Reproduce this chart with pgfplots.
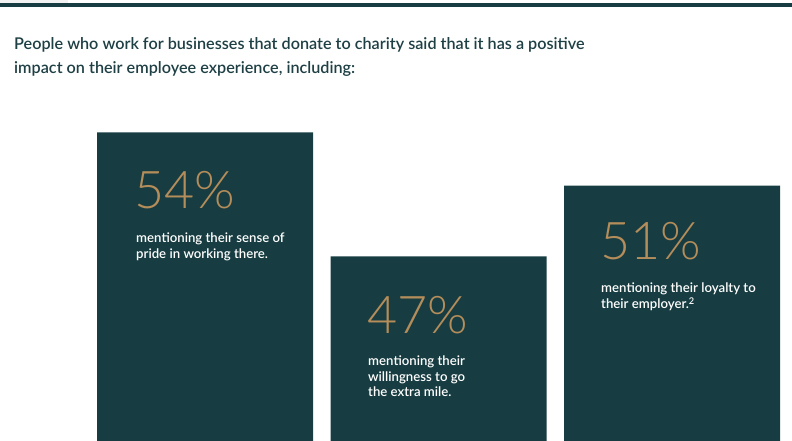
\documentclass[border=0pt]{standalone}
\usepackage{pgfplots}
\pgfplotsset{compat=1.18}
\usepackage{fontspec}
\setmainfont{Lato}
\newfontfamily\lightfont{Lato Light}
\newfontfamily\semifont{Lato Semibold}
\definecolor{deepteal}{HTML}{173D42}
\definecolor{gold}{HTML}{B48D5A}
\definecolor{titlecol}{HTML}{1E3F44}
\begin{document}
\begin{tikzpicture}
\begin{axis}[
    at={(0,0)}, anchor=south west,
    scale only axis,
    width=792pt, height=441pt,
    xmin=-0.87794, xmax=2.51392,
    ymin=36.58, ymax=61.48,
    axis lines=none, ticks=none,
    clip=true,
]
% share saying donating has a positive impact (%)
\addplot[ybar, bar width=216pt, fill=deepteal, draw=none]
    coordinates {(0,54) (1,47) (2,51)};
\end{axis}
% page frame, 1pt = 1px, y downwards
\path (0,0) rectangle (792pt,441pt);
\begin{scope}[x=1pt, y=-1pt, yshift=441pt,
    ttl/.style={anchor=base west, inner sep=0, text=titlecol, font=\semifont\fontsize{16.2}{18}\selectfont},
    pct/.style={anchor=base west, inner sep=0, text=gold, font=\lightfont\fontsize{52}{52}\selectfont},
    txt/.style={anchor=base west, inner sep=0, text=white, font=\semifont\fontsize{13.2}{16}\selectfont}]
  \fill[black!5] (0,0) rectangle (68,3);
  \fill[deepteal] (0,3) rectangle (792,7.5);
  \node[ttl] at (14,50) {People who work for businesses that donate to charity said that it has a positive};
  \node[ttl] at (14,74) {impact on their employee experience, including:};
  % bar 1
  \node[pct] at (134,209) {54\%};
  \node[txt] at (136,243) {mentioning their sense of};
  \node[txt] at (136,259) {pride in working there.};
  % bar 2
  \node[pct] at (367,334) {47\%};
  \node[txt] at (368,366) {mentioning their};
  \node[txt] at (368,381.5) {willingness to go};
  \node[txt] at (368,397) {the extra mile.};
  % bar 3
  \node[pct] at (600,260) {51\%};
  \node[txt] at (601,293) {mentioning their loyalty to};
  \node[txt] at (601,308.5) {their employer.\textsuperscript{2}};
\end{scope}
\end{tikzpicture}
\end{document}
